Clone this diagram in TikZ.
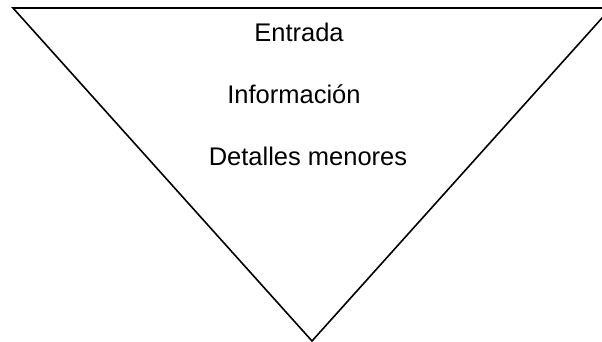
\documentclass[tikz,border=0pt]{standalone}
\usepackage{fontspec}
\setmainfont{Liberation Sans}
\usepackage{tikz}

\tikzset{
  etiqueta/.style={anchor=base, inner sep=0pt, font=\fontsize{25.5}{30}\selectfont}
}

\begin{document}
\begin{tikzpicture}[x=1pt, y=-1pt]

        \useasboundingbox (0,0) rectangle (602,342);

        % inverted triangle
            \coordinate (izq) at (13,8);
            \coordinate (der) at (611,8);
            \coordinate (pico) at (312,341);
            \draw[line width=1.6pt] (izq) -- (der) -- (pico) -- cycle;

        % levels
            \node[etiqueta] (entrada) at (299,42) {Entrada};
            \node[etiqueta] (info) at (294,104) {Información};
            \node[etiqueta] (detalles) at (308,165) {Detalles menores};

        \end{tikzpicture}
\end{document}
